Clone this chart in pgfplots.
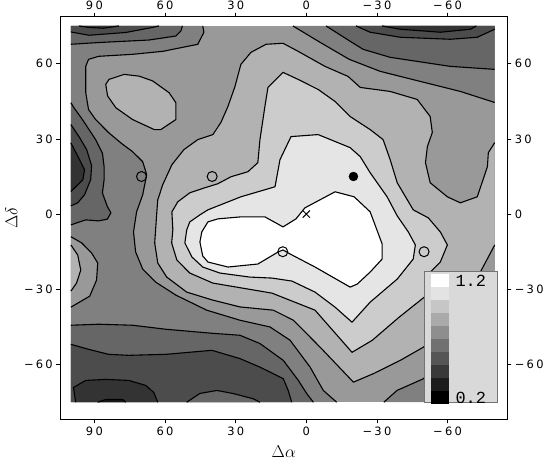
\documentclass[border=0pt]{standalone}
\usepackage{fontspec}
\setmainfont{DejaVu Sans}
\newfontfamily\tickfont[LetterSpace=20]{DejaVu Sans}
\newfontfamily\legmono{Liberation Mono}
\usepackage{pgfplots}
\pgfplotsset{compat=1.18}

% band colours of the contour plot (dark -> light)
\definecolor{b0}{gray}{0.10}
\definecolor{b1}{gray}{0.20}
\definecolor{b2}{gray}{0.30}
\definecolor{b3}{gray}{0.40}
\definecolor{b4}{gray}{0.50}
\definecolor{b5}{gray}{0.60}
\definecolor{b6}{gray}{0.70}
\definecolor{b7}{gray}{0.80}
\definecolor{b8}{gray}{0.90}
\definecolor{b9}{gray}{1.00}
\definecolor{legbg}{gray}{0.85}
\definecolor{legframe}{gray}{0.45}
% key swatches
\definecolor{k1}{gray}{0.889}
\definecolor{k2}{gray}{0.778}
\definecolor{k3}{gray}{0.667}
\definecolor{k4}{gray}{0.556}
\definecolor{k5}{gray}{0.444}
\definecolor{k6}{gray}{0.333}
\definecolor{k7}{gray}{0.222}
\definecolor{k8}{gray}{0.111}

\pgfplotsset{
  frame/.style={
    scale only axis, width=447bp, height=402.6bp,
    x dir=reverse,
    xmin=-85.35, xmax=104.5, ymin=-81.8, ymax=78.7,
    axis line style={line width=0.8bp},
    tick align=outside, major tick length=4bp,
    tick style={line width=0.6bp, black},
    xtick={90,60,30,0,-30,-60}, xticklabels={90,60,30,0,−30,−60},
    ytick={60,30,0,-30,-60}, yticklabels={60,30,0,−30,−60},
    tick label style={font=\tickfont\fontsize{11.5}{13}\selectfont},
  },
  cl/.style={black, line width=1.1bp, line join=round, mark=none},
  band/.style={draw=none, fill=#1},
}

\begin{document}
\begin{tikzpicture}
\path[use as bounding box] (-60.3bp,-39.7bp) rectangle (483.7bp,419.3bp);
\begin{axis}[frame, xtick pos=both, ytick pos=both, xticklabel pos=lower, yticklabel pos=left]

% ---- filled bands, painted outer to inner ----
\addplot[band=b5] coordinates {(100,75) (-80,75) (-80,-75) (100,-75)};
% b4
\addplot[band=b4] coordinates {(44,75) (43.5,72.5) (46.1,67.7) (60.9,64.9) (73.8,63.7) (88.2,62.9) (92.5,61.7) (93.7,58.9) (93.7,48.5) (92.5,41.7) (89.5,37.7) (84.0,32.5) (78.4,28.1) (73.8,24.9) (69.5,20.9) (67.8,15.7) (69.5,7.7) (72.1,0.9) (73.4,-7.1) (72.5,-15.1) (69.5,-21.9) (64.0,-27.1) (55.4,-32.3) (42.3,-38.3) (28.2,-42.3) (15.4,-45.0) (6.9,-50.3) (-1.6,-61.0) (-7.2,-70.3) (-12.9,-75) (100,-75) (100,75)};
\addplot[band=b4] coordinates {(5.7,75) (-5.8,68.5) (-18.2,61.7) (-31.4,56.9) (-48.4,52.9) (-65.4,48.9) (-80,44.5) (-80,75)};
\addplot[band=b4] coordinates {(-32.9,-75) (-38.5,-70.3) (-49.8,-65.6) (-65.4,-50.3) (-80,-42.3) (-80,-75)};
% b3
\addplot[band=b3] coordinates {(100,67.7) (88.1,68.4) (66.8,69.4) (55.4,71.0) (53.3,73.0) (52.6,75) (100,75)};
\addplot[band=b3] coordinates {(-8.4,75) (-18.6,68.9) (-24.1,65.7) (-35.6,62.5) (-61.1,58.9) (-80,57.7) (-80,75)};
\addplot[band=b3] coordinates {(100,44.4) (98.7,42.4) (95.1,37.7) (92.3,33.7) (89.5,29.7) (86.6,24.3) (85.9,19.0) (85.9,13.7) (86.6,8.4) (84.5,3.0) (83.0,0.5) (84.5,-2.0) (88.2,-2.7) (93.7,-2.3) (100,-4.3)};
\addplot[band=b3] coordinates {(100,-44.3) (88.2,-43.9) (73.8,-44.3) (59.7,-45.9) (40.1,-47.5) (28.2,-48.3) (19.7,-51.6) (9.8,-58.3) (3.4,-66.3) (-0.2,-71.6) (-3.0,-75) (100,-75)};
% b2
\addplot[band=b2] coordinates {(100,72.6) (92.3,71.3) (76.7,72.4) (65.4,74.4) (62.6,75) (100,75)};
\addplot[band=b2] coordinates {(-21.1,75) (-27.1,72.5) (-39.9,70.5) (-61.1,69.7) (-72.6,70.5) (-80,73.7) (-80,75)};
\addplot[band=b2] coordinates {(100,35.7) (96.3,30.5) (93.3,25.7) (91.2,19.3) (91.6,13.7) (94.2,7.7) (97.1,4.5) (100,3.3)};
\addplot[band=b2] coordinates {(100,-51.9) (92.5,-53.9) (84,-55.9) (75.4,-56.3) (59.7,-55.9) (40.1,-54.3) (28.2,-57.6) (19.7,-61.0) (9.8,-65.6) (7.7,-70.3) (6.2,-75) (100,-75)};
% b1
\addplot[band=b1] coordinates {(96.6,75) (92.3,74.4) (86.1,74.1) (79.6,75)};
\addplot[band=b1] coordinates {(-32.2,75) (-39.9,73.7) (-56.9,72.5) (-69.7,73.7) (-72.2,75)};
\addplot[band=b1] coordinates {(100,28.4) (96.3,21.7) (94.2,17.7) (94.9,13.7) (100,9.0)};
\addplot[band=b1] coordinates {(98.0,-75) (98.9,-69.1) (93.7,-66.3) (85.2,-65.9) (75.4,-66.3) (68.2,-68.3) (64.8,-71.1) (63.1,-75)};
% b0
\addplot[band=b0] coordinates {(88.6,-75) (85.2,-73.9) (78.0,-73.9) (76.7,-75)};
% lighter bump at the bottom
\addplot[band=b3] coordinates {(50.8,-75) (45.2,-71.5) (38.0,-70.3) (31.2,-71.5) (22.6,-73.6) (19.7,-75)};
% left edge light blob
\addplot[band=b5] coordinates {(100,-9) (95.4,-11.5) (91.2,-15.5) (88.6,-19.5) (89.1,-26.3) (92.0,-32.7) (100,-37.1)};
\addplot[band=b6] coordinates {(100,-12.3) (97.1,-16.3) (95.8,-22.3) (97.6,-27.5) (100,-30.7)};
% upper left light blob
\addplot[band=b6] coordinates {(85.2,51.7) (83.8,53.7) (77.4,55.7) (71.0,55.0) (65.3,53.1) (58.3,48.4) (55.4,44.4) (55.4,37.7) (61.8,33.7) (64.6,33.7) (73.8,37.7) (80.9,42.4) (84.4,47.1)};
% b6 around the centre
\addplot[band=b6] coordinates {(-80,28.5) (-77.3,24.5) (-76.9,18.9) (-72.6,6.9) (-65.4,4.5) (-59.9,6.9) (-52.6,12.5) (-50.6,20.5) (-51.4,26.9) (-53.5,32.5) (-52.6,38.9) (-47.1,45.7) (-35.6,48.9) (-22.9,50.5) (-17.7,54.9) (-7.9,58.9) (3.5,64.9) (9.9,68.1) (17.1,67.7) (23.5,64.5) (27.8,59.7) (30.3,50.9) (33.3,42.9) (36.3,36.5) (39.7,31.7) (46.1,29.7) (52.0,25.7) (57.1,19.7) (61.0,11.7) (63.1,5.7) (63.5,0.9) (64.4,-11.5) (63.1,-19.5) (59.3,-25.1) (50.8,-31.1) (39.7,-34.3) (28.2,-37.0) (14.0,-38.3) (5.5,-42.3) (-5.8,-53.0) (-20.0,-67.0) (-28.5,-63.6) (-39.9,-58.3) (-49.8,-53.0) (-63.3,-38.3) (-73.9,-23.1) (-80,-12.3)};
% b7
\addplot[band=b7] coordinates {(57.1,0.9) (54.6,4.9) (49.5,8.5) (43.1,10.5) (37.6,12.1) (32.0,14.9) (24.8,16.9) (20.6,20.5) (19.7,29.7) (17.6,42.9) (16.3,50.5) (9.9,56.5) (3.5,53.7) (-5.0,49.7) (-12.2,44.9) (-18.6,38.9) (-27.1,33.7) (-32.6,29.7) (-35.6,21.7) (-38.6,12.5) (-45.4,1.7) (-51.8,-1.5) (-56.9,-7.1) (-59.9,-12.3) (-56.9,-19.1) (-51.4,-24.3) (-53.5,-28.3) (-50.1,-33.1) (-39.4,-41.1) (-28.0,-50.3) (-19.4,-55.1) (-3.7,-38.3) (14.6,-31.5) (39.7,-27.5) (49.5,-23.5) (55.0,-18.3) (57.2,-11.5) (56.7,-6.3)};
% b8
\addplot[band=b8] coordinates {(45.2,-0.3) (49.5,-3.1) (50.8,-6.3) (51.6,-11.5) (48.6,-17.1) (44.0,-21.1) (36.7,-23.5) (24.0,-25.1) (14.6,-25.5) (6.1,-26.7) (-3.7,-31.1) (-12.2,-37.1) (-19.4,-43.1) (-27.1,-35.1) (-38.6,-25.9) (-45.4,-17.9) (-46.3,-12.3) (-43.3,-7.1) (-38.6,-0.7) (-34.3,6.9) (-27.1,16.5) (-22.9,22.9) (-18.6,26.5) (-5.0,31.7) (6.5,30.9) (11.2,21.7) (13.3,10.9) (27.8,6.9) (41.8,1.7)};
% b9
\addplot[band=b9] coordinates {(45.2,-11.1) (44.4,-7.1) (41.8,-3.1) (37.6,-1.9) (27.8,-1.1) (17.6,-1.1) (9.9,-5.1) (4.4,-1.9) (0.6,2.5) (-12.2,8.9) (-20.3,6.9) (-27.1,0.9) (-32.2,-11.9) (-32.2,-17.9) (-27.1,-23.1) (-21.6,-27.9) (-18.6,-29.1) (-3.7,-21.1) (6.9,-15.9) (9.9,-14.3) (12.0,-15.1) (20.6,-19.9) (33.3,-21.1) (41.8,-19.1) (44.0,-16.7)};

% ---- contour lines ----
\addplot[cl] coordinates {(44,75) (43.5,72.5) (46.1,67.7) (60.9,64.9) (73.8,63.7) (88.2,62.9) (92.5,61.7) (93.7,58.9) (93.7,48.5) (92.5,41.7) (89.5,37.7) (84.0,32.5) (78.4,28.1) (73.8,24.9) (69.5,20.9) (67.8,15.7) (69.5,7.7) (72.1,0.9) (73.4,-7.1) (72.5,-15.1) (69.5,-21.9) (64.0,-27.1) (55.4,-32.3) (42.3,-38.3) (28.2,-42.3) (15.4,-45.0) (6.9,-50.3) (-1.6,-61.0) (-7.2,-70.3) (-12.9,-75)};
\addplot[cl] coordinates {(5.7,75) (-5.8,68.5) (-18.2,61.7) (-31.4,56.9) (-48.4,52.9) (-65.4,48.9) (-80,44.5)};
\addplot[cl] coordinates {(-32.9,-75) (-38.5,-70.3) (-49.8,-65.6) (-65.4,-50.3) (-80,-42.3)};
\addplot[cl] coordinates {(100,67.7) (88.1,68.4) (66.8,69.4) (55.4,71.0) (53.3,73.0) (52.6,75)};
\addplot[cl] coordinates {(-8.4,75) (-18.6,68.9) (-24.1,65.7) (-35.6,62.5) (-61.1,58.9) (-80,57.7)};
\addplot[cl] coordinates {(100,44.4) (98.7,42.4) (95.1,37.7) (92.3,33.7) (89.5,29.7) (86.6,24.3) (85.9,19.0) (85.9,13.7) (86.6,8.4) (84.5,3.0) (83.0,0.5) (84.5,-2.0) (88.2,-2.7) (93.7,-2.3) (100,-4.3)};
\addplot[cl] coordinates {(100,-44.3) (88.2,-43.9) (73.8,-44.3) (59.7,-45.9) (40.1,-47.5) (28.2,-48.3) (19.7,-51.6) (9.8,-58.3) (3.4,-66.3) (-0.2,-71.6) (-3.0,-75)};
\addplot[cl] coordinates {(100,72.6) (92.3,71.3) (76.7,72.4) (65.4,74.4) (62.6,75)};
\addplot[cl] coordinates {(-21.1,75) (-27.1,72.5) (-39.9,70.5) (-61.1,69.7) (-72.6,70.5) (-80,73.7)};
\addplot[cl] coordinates {(100,35.7) (96.3,30.5) (93.3,25.7) (91.2,19.3) (91.6,13.7) (94.2,7.7) (97.1,4.5) (100,3.3)};
\addplot[cl] coordinates {(100,-51.9) (92.5,-53.9) (84,-55.9) (75.4,-56.3) (59.7,-55.9) (40.1,-54.3) (28.2,-57.6) (19.7,-61.0) (9.8,-65.6) (7.7,-70.3) (6.2,-75)};
\addplot[cl] coordinates {(96.6,75) (92.3,74.4) (86.1,74.1) (79.6,75)};
\addplot[cl] coordinates {(-32.2,75) (-39.9,73.7) (-56.9,72.5) (-69.7,73.7) (-72.2,75)};
\addplot[cl] coordinates {(100,28.4) (96.3,21.7) (94.2,17.7) (94.9,13.7) (100,9.0)};
\addplot[cl] coordinates {(98.0,-75) (98.9,-69.1) (93.7,-66.3) (85.2,-65.9) (75.4,-66.3) (68.2,-68.3) (64.8,-71.1) (63.1,-75)};
\addplot[cl] coordinates {(88.6,-75) (85.2,-73.9) (78.0,-73.9) (76.7,-75)};
\addplot[cl] coordinates {(50.8,-75) (45.2,-71.5) (38.0,-70.3) (31.2,-71.5) (22.6,-73.6) (19.7,-75)};
\addplot[cl] coordinates {(100,-9) (95.4,-11.5) (91.2,-15.5) (88.6,-19.5) (89.1,-26.3) (92.0,-32.7) (100,-37.1)};
\addplot[cl] coordinates {(100,-12.3) (97.1,-16.3) (95.8,-22.3) (97.6,-27.5) (100,-30.7)};
\addplot[cl] coordinates {(85.2,51.7) (83.8,53.7) (77.4,55.7) (71.0,55.0) (65.3,53.1) (58.3,48.4) (55.4,44.4) (55.4,37.7) (61.8,33.7) (64.6,33.7) (73.8,37.7) (80.9,42.4) (84.4,47.1) (85.2,51.7)};
\addplot[cl] coordinates {(-80,28.5) (-77.3,24.5) (-76.9,18.9) (-72.6,6.9) (-65.4,4.5) (-59.9,6.9) (-52.6,12.5) (-50.6,20.5) (-51.4,26.9) (-53.5,32.5) (-52.6,38.9) (-47.1,45.7) (-35.6,48.9) (-22.9,50.5) (-17.7,54.9) (-7.9,58.9) (3.5,64.9) (9.9,68.1) (17.1,67.7) (23.5,64.5) (27.8,59.7) (30.3,50.9) (33.3,42.9) (36.3,36.5) (39.7,31.7) (46.1,29.7) (52.0,25.7) (57.1,19.7) (61.0,11.7) (63.1,5.7) (63.5,0.9) (64.4,-11.5) (63.1,-19.5) (59.3,-25.1) (50.8,-31.1) (39.7,-34.3) (28.2,-37.0) (14.0,-38.3) (5.5,-42.3) (-5.8,-53.0) (-20.0,-67.0) (-28.5,-63.6) (-39.9,-58.3) (-49.8,-53.0) (-63.3,-38.3) (-73.9,-23.1) (-80,-12.3)};
\addplot[cl] coordinates {(57.1,0.9) (54.6,4.9) (49.5,8.5) (43.1,10.5) (37.6,12.1) (32.0,14.9) (24.8,16.9) (20.6,20.5) (19.7,29.7) (17.6,42.9) (16.3,50.5) (9.9,56.5) (3.5,53.7) (-5.0,49.7) (-12.2,44.9) (-18.6,38.9) (-27.1,33.7) (-32.6,29.7) (-35.6,21.7) (-38.6,12.5) (-45.4,1.7) (-51.8,-1.5) (-56.9,-7.1) (-59.9,-12.3) (-56.9,-19.1) (-51.4,-24.3) (-53.5,-28.3) (-50.1,-33.1) (-39.4,-41.1) (-28.0,-50.3) (-19.4,-55.1) (-3.7,-38.3) (14.6,-31.5) (39.7,-27.5) (49.5,-23.5) (55.0,-18.3) (57.2,-11.5) (56.7,-6.3) (57.1,0.9)};
\addplot[cl] coordinates {(45.2,-0.3) (49.5,-3.1) (50.8,-6.3) (51.6,-11.5) (48.6,-17.1) (44.0,-21.1) (36.7,-23.5) (24.0,-25.1) (14.6,-25.5) (6.1,-26.7) (-3.7,-31.1) (-12.2,-37.1) (-19.4,-43.1) (-27.1,-35.1) (-38.6,-25.9) (-45.4,-17.9) (-46.3,-12.3) (-43.3,-7.1) (-38.6,-0.7) (-34.3,6.9) (-27.1,16.5) (-22.9,22.9) (-18.6,26.5) (-5.0,31.7) (6.5,30.9) (11.2,21.7) (13.3,10.9) (27.8,6.9) (41.8,1.7) (45.2,-0.3)};
\addplot[cl] coordinates {(45.2,-11.1) (44.4,-7.1) (41.8,-3.1) (37.6,-1.9) (27.8,-1.1) (17.6,-1.1) (9.9,-5.1) (4.4,-1.9) (0.6,2.5) (-12.2,8.9) (-20.3,6.9) (-27.1,0.9) (-32.2,-11.9) (-32.2,-17.9) (-27.1,-23.1) (-21.6,-27.9) (-18.6,-29.1) (-3.7,-21.1) (6.9,-15.9) (9.9,-14.3) (12.0,-15.1) (20.6,-19.9) (33.3,-21.1) (41.8,-19.1) (44.0,-16.7) (45.2,-11.1)};

% ---- markers ----
\addplot[only marks, mark=o, mark size=5bp, black, line width=1bp] coordinates {(70,15) (40,15) (10,-15) (-50,-15)};
\addplot[only marks, mark=*, mark size=4.5bp, black] coordinates {(-20,15)};
\addplot[only marks, mark=x, mark size=5bp, black, line width=1bp] coordinates {(0,0)};

% ---- colour key ----
\filldraw[fill=legbg, draw=legframe, line width=0.8bp] (axis cs:-50.1,-23.0) rectangle (axis cs:-81.3,-75.0);
\fill[white] (axis cs:-52.9,-23.9) rectangle (axis cs:-60.7,-29.1);
\fill[k1] (axis cs:-52.9,-29.1) rectangle (axis cs:-60.7,-34.3);
\fill[k2] (axis cs:-52.9,-34.3) rectangle (axis cs:-60.7,-39.5);
\fill[k3] (axis cs:-52.9,-39.5) rectangle (axis cs:-60.7,-44.7);
\fill[k4] (axis cs:-52.9,-44.7) rectangle (axis cs:-60.7,-49.9);
\fill[k5] (axis cs:-52.9,-49.9) rectangle (axis cs:-60.7,-55.1);
\fill[k6] (axis cs:-52.9,-55.1) rectangle (axis cs:-60.7,-60.3);
\fill[k7] (axis cs:-52.9,-60.3) rectangle (axis cs:-60.7,-65.5);
\fill[k8] (axis cs:-52.9,-65.5) rectangle (axis cs:-60.7,-70.7);
\fill[black] (axis cs:-52.9,-70.7) rectangle (axis cs:-60.7,-75.9);
\node[anchor=west, inner sep=0pt, font=\legmono\fontsize{17}{17}\selectfont] at (axis cs:-63.3,-26.6) {1.2};
\begin{scope}
\clip (axis cs:-50.1,-23.0) rectangle (axis cs:-81.3,-75.0);
\node[anchor=west, inner sep=0pt, font=\legmono\fontsize{17}{17}\selectfont] at (axis cs:-63.3,-73.4) {0.2};
\end{scope}
\end{axis}
\begin{axis}[frame, xticklabel pos=upper, yticklabel pos=right]
\end{axis}
\node[font=\fontsize{16}{18}\selectfont] at ([yshift=-32bp]current axis.south) {$\Delta\alpha$};
\node[rotate=90, font=\fontsize{16}{18}\selectfont] at ([xshift=-49bp]current axis.west) {$\Delta\delta$};
\end{tikzpicture}
\end{document}
